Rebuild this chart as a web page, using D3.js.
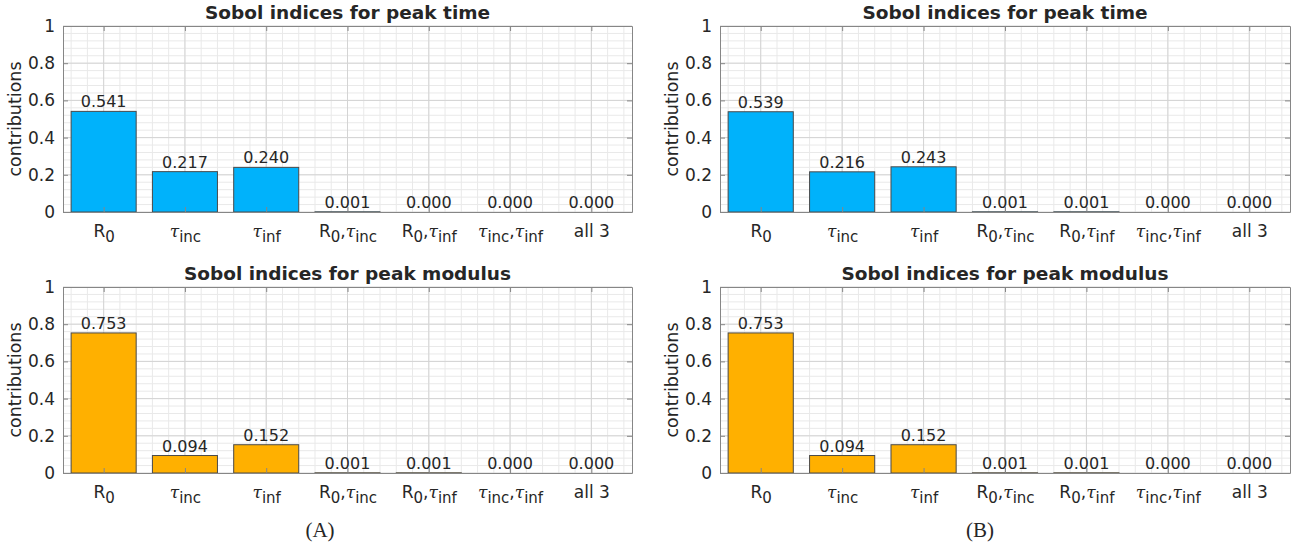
<!DOCTYPE html>
<html>
<head>
<meta charset="utf-8">
<script src="https://cdn.jsdelivr.net/npm/d3@7"></script>
<style>
  body { margin: 0; background: #fff; }
  svg text { font-family: "DejaVu Sans", sans-serif; fill: #262626; }
</style>
</head>
<body>
<svg id="chart" width="1298" height="546"></svg>
<script>
// categories (x tick labels), as rich-text pieces: [text, kind]
const categories = ['R0', 'tinc', 'tinf', 'R0,tinc', 'R0,tinf', 'tinc,tinf', 'all 3'];
const tickLabels = [
    [['R', 'n'], ['0', 'sub']],
    [['τ', 'tau'], ['inc', 'sub']],
    [['τ', 'tau'], ['inf', 'sub']],
    [['R', 'n'], ['0', 'sub'], [',', 'n'], ['τ', 'tau'], ['inc', 'sub']],
    [['R', 'n'], ['0', 'sub'], [',', 'n'], ['τ', 'tau'], ['inf', 'sub']],
    [['τ', 'tau'], ['inc', 'sub'], [',', 'n'], ['τ', 'tau'], ['inf', 'sub']],
    [['all 3', 'n']]
];
const yTicks = [0, 0.2, 0.4, 0.6, 0.8, 1];

// Sobol indices
const peakTimeA = [0.541, 0.217, 0.240, 0.001, 0.000, 0.000, 0.000];
const peakModulusA = [0.753, 0.094, 0.152, 0.001, 0.001, 0.000, 0.000];
const peakTimeB = [0.539, 0.216, 0.243, 0.001, 0.001, 0.000, 0.000];
const peakModulusB = [0.753, 0.094, 0.152, 0.001, 0.001, 0.000, 0.000];

const BLUE = '#00b2fb';
const ORANGE = '#ffb000';

const svg = d3.select('#chart');

function addPanel(title, values, color, left, right, top, bottom) {
    let x = d3.scaleLinear().domain([0.5, 7.5]).range([left, right]);
    let y = d3.scaleLinear().domain([0, 1]).range([bottom, top]);
    let g = svg.append('g');

    // minor grid
    let minorX = d3.range(0.6, 7.45, 0.2).map(v => Math.round(v * 10) / 10);
    let minorY = d3.range(0.04, 1.0, 0.04).map(v => Math.round(v * 100) / 100);
    g.selectAll('.mx').data(minorX).join('line')
        .attr('x1', d => x(d)).attr('x2', d => x(d))
        .attr('y1', top).attr('y2', bottom)
        .attr('stroke', '#e9e9e9').attr('stroke-width', 1);
    g.selectAll('.my').data(minorY).join('line')
        .attr('x1', left).attr('x2', right)
        .attr('y1', d => y(d)).attr('y2', d => y(d))
        .attr('stroke', '#e9e9e9').attr('stroke-width', 1);
    // major grid
    g.selectAll('.gx').data(d3.range(1, 8)).join('line')
        .attr('x1', d => x(d)).attr('x2', d => x(d))
        .attr('y1', top).attr('y2', bottom)
        .attr('stroke', '#d4d4d4').attr('stroke-width', 1);
    g.selectAll('.gy').data(yTicks).join('line')
        .attr('x1', left).attr('x2', right)
        .attr('y1', d => y(d)).attr('y2', d => y(d))
        .attr('stroke', '#d4d4d4').attr('stroke-width', 1);

    // bars
    g.selectAll('.bar').data(values).join('rect')
        .attr('x', (d, i) => x(i + 1 - 0.4))
        .attr('width', x(1.8) - x(1))
        .attr('y', d => y(d))
        .attr('height', d => y(0) - y(d))
        .attr('fill', color)
        .attr('stroke', '#4a4a4a')
        .attr('stroke-width', 1);

    // value labels
    g.selectAll('.val').data(values).join('text')
        .attr('x', (d, i) => x(i + 1))
        .attr('y', d => y(d) - 4)
        .attr('text-anchor', 'middle')
        .style('font-size', '16px')
        .text(d => d.toFixed(3));

    // axes with inward ticks on all four sides
    let axB = g.append('g').attr('transform', `translate(0,${bottom})`)
        .call(d3.axisBottom(x).tickValues(d3.range(1, 8)).tickSizeInner(-5).tickSizeOuter(0).tickFormat(''));
    let axT = g.append('g').attr('transform', `translate(0,${top})`)
        .call(d3.axisTop(x).tickValues(d3.range(1, 8)).tickSizeInner(-5).tickSizeOuter(0).tickFormat(''));
    let axL = g.append('g').attr('transform', `translate(${left},0)`)
        .call(d3.axisLeft(y).tickValues(yTicks).tickSizeInner(-5).tickSizeOuter(0).tickPadding(8).tickFormat(d3.format('~g')));
    let axR = g.append('g').attr('transform', `translate(${right},0)`)
        .call(d3.axisRight(y).tickValues(yTicks).tickSizeInner(-5).tickSizeOuter(0).tickFormat(''));
    [axB, axT, axL, axR].forEach(a => {
        a.select('.domain').attr('stroke', '#868686');
        a.selectAll('.tick line').attr('stroke', '#868686');
    });
    axL.selectAll('.tick text').style('font-size', '17px').attr('fill', '#262626');

    // rich x tick labels
    axB.selectAll('.tick').each(function(d) {
        let t = d3.select(this).append('text')
            .attr('y', 25)
            .attr('text-anchor', 'middle')
            .style('font-size', '17px')
            .attr('fill', '#262626');
        let shift = 0;
        tickLabels[d - 1].forEach(part => {
            let ts = t.append('tspan').text(part[0]);
            let dy = 0;
            if (part[1] === 'sub') {
                dy = 5 - shift;
                shift = 5;
                ts.style('font-size', '15px');
            } else {
                dy = -shift;
                shift = 0;
                if (part[1] === 'tau') {
                    ts.style('font-family', '"DejaVu Serif", serif').style('font-style', 'italic');
                }
            }
            if (dy !== 0) ts.attr('dy', dy);
        });
    });

    // title
    g.append('text')
        .attr('x', (left + right) / 2)
        .attr('y', top - 7)
        .attr('text-anchor', 'middle')
        .style('font-size', '18.5px')
        .style('font-weight', 'bold')
        .attr('fill', '#000')
        .text(title);

    // y label
    g.append('text')
        .attr('transform', `translate(${left - 42},${(top + bottom) / 2}) rotate(-90)`)
        .attr('text-anchor', 'middle')
        .style('font-size', '17.5px')
        .text('contributions');
}

function addCaption(text, cx) {
    svg.append('text')
        .attr('x', cx)
        .attr('y', 537)
        .attr('text-anchor', 'middle')
        .style('font-family', '"Liberation Serif", serif')
        .style('font-size', '21px')
        .attr('fill', '#000')
        .text(text);
}

addPanel('Sobol indices for peak time', peakTimeA, BLUE, 63, 632, 26, 212);
addPanel('Sobol indices for peak modulus', peakModulusA, ORANGE, 63, 632, 287, 473);
addPanel('Sobol indices for peak time', peakTimeB, BLUE, 720, 1290, 26, 212);
addPanel('Sobol indices for peak modulus', peakModulusB, ORANGE, 720, 1290, 287, 473);
addCaption('(A)', 320);
addCaption('(B)', 980);
</script>
</body>
</html>
